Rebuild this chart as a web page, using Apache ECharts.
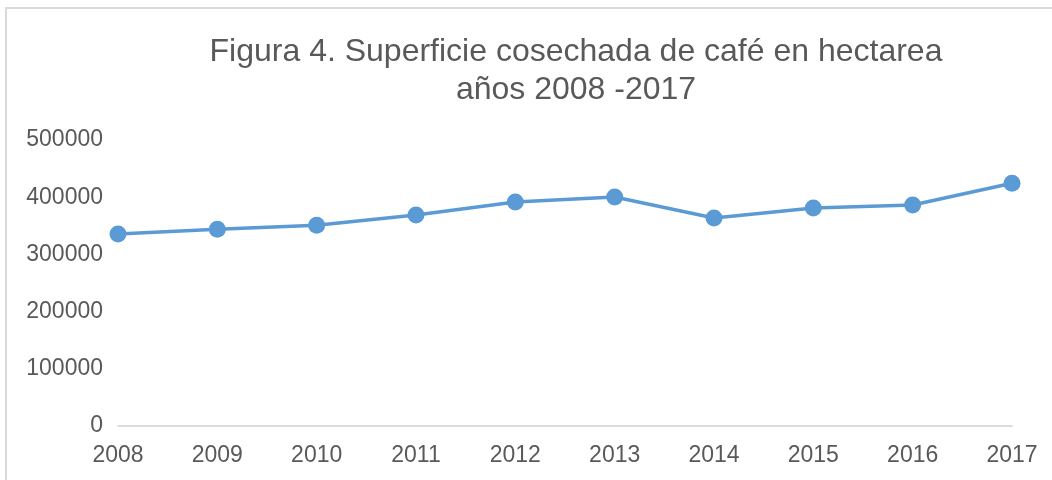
<!DOCTYPE html>
<html>
<head>
<meta charset="utf-8">
<script src="https://cdn.jsdelivr.net/npm/echarts@6/dist/echarts.min.js"></script>
<style>
  html, body { margin: 0; padding: 0; background: #fff; }
  #chart { width: 1052px; height: 480px; }
</style>
</head>
<body>
<div id="chart"></div>
<script>
// años y superficie cosechada (ha)
var years = ["2008", "2009", "2010", "2011", "2012", "2013", "2014", "2015", "2016", "2017"];
var superficie = [335500, 344000, 351000, 369000, 391500, 400500, 363500, 381000, 386500, 424500];
var yTicks = [0, 100000, 200000, 300000, 400000, 500000];

var chart = echarts.init(document.getElementById("chart"));

var option = {
  backgroundColor: "#fff",
  animation: false,
  title: {
    text: "Figura 4. Superficie cosechada de café en hectarea\naños 2008 -2017",
    left: 571,
    textAlign: "center",
    top: 28,
    textStyle: {
      fontFamily: "Liberation Sans",
      fontSize: 32,
      fontWeight: "normal",
      color: "#595959",
      lineHeight: 38
    }
  },
  graphic: [{
    type: "rect",
    shape: { x: 6, y: 8, width: 1200, height: 600 },
    style: { fill: "none", stroke: "#d9d9d9", lineWidth: 2 }
  }],
  grid: {
    left: 118,
    right: 40,
    top: 140,
    bottom: 54
  },
  xAxis: {
    type: "category",
    boundaryGap: false,
    data: years,
    axisLine: { lineStyle: { color: "#d0d0d0", width: 1.5 } },
    axisTick: { show: false },
    axisLabel: {
      fontFamily: "Liberation Sans",
      fontSize: 23,
      color: "#595959",
      margin: 18
    }
  },
  yAxis: {
    type: "value",
    min: yTicks[0],
    max: yTicks[yTicks.length - 1],
    interval: 100000,
    splitLine: { show: false },
    axisLine: { show: false },
    axisTick: { show: false },
    axisLabel: {
      fontFamily: "Liberation Sans",
      fontSize: 23,
      color: "#595959",
      margin: 15,
      formatter: function (v) { return String(v); }
    }
  },
  series: [{
    name: "Superficie",
    type: "line",
    data: superficie,
    symbol: "circle",
    symbolSize: 17,
    itemStyle: { color: "#5b9bd5" },
    lineStyle: { color: "#5b9bd5", width: 3.5 }
  }]
};

chart.setOption(option);
</script>
</body>
</html>
